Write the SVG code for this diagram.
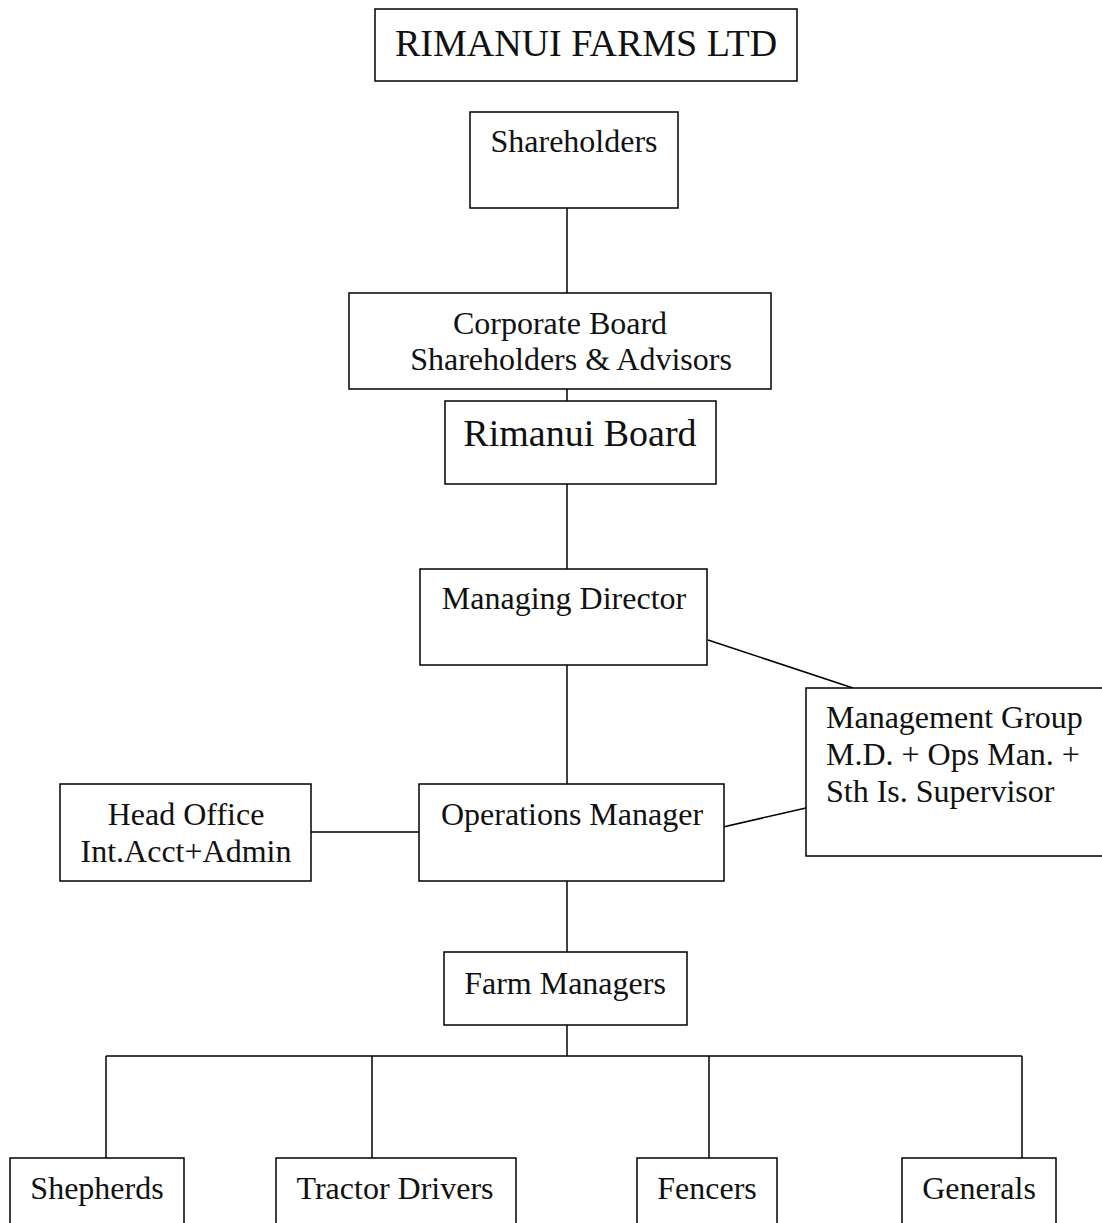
<svg xmlns="http://www.w3.org/2000/svg" width="1102" height="1223" viewBox="0 0 1102 1223">
<style>
.b{fill:#fff;stroke:#000;stroke-width:1.5}
.t{font-family:"Liberation Serif","Times New Roman",serif;font-size:32px;fill:#111}
.L{font-size:38px}
.m{text-anchor:middle}
.c line{stroke:#000;stroke-width:1.5}
</style>
<rect width="1102" height="1223" fill="#fff"/>
<g class="c" id="connectors">
<line x1="567" y1="208" x2="567" y2="293"/>
<line x1="567" y1="389" x2="567" y2="401"/>
<line x1="567" y1="484" x2="567" y2="569"/>
<line x1="567" y1="665" x2="567" y2="784"/>
<line x1="708" y1="640" x2="853" y2="688"/>
<line x1="710" y1="830" x2="806" y2="808"/>
<line x1="311" y1="832" x2="419" y2="832"/>
<line x1="567" y1="881" x2="567" y2="952"/>
<line x1="567" y1="1025" x2="567" y2="1056"/>
<line x1="106" y1="1056" x2="1022" y2="1056"/>
<line x1="106" y1="1056" x2="106" y2="1158"/>
<line x1="372" y1="1056" x2="372" y2="1158"/>
<line x1="709" y1="1056" x2="709" y2="1158"/>
<line x1="1022" y1="1056" x2="1022" y2="1158"/>
</g>
<g id="title"><rect class="b" x="375" y="9" width="422" height="72"/><text class="t m L" x="586" y="56">RIMANUI FARMS LTD</text></g>
<g id="shareholders"><rect class="b" x="470" y="112" width="208" height="96"/><text class="t m" x="574" y="152">Shareholders</text></g>
<g id="corporate"><rect class="b" x="349" y="293" width="422" height="96"/><text class="t m" x="560" y="334">Corporate Board</text><text class="t m" x="571" y="370">Shareholders &amp; Advisors</text></g>
<g id="rimanui"><rect class="b" x="445" y="401" width="271" height="83"/><text class="t m L" x="580" y="446">Rimanui Board</text></g>
<g id="md"><rect class="b" x="420" y="569" width="287" height="96"/><text class="t m" x="564" y="609">Managing Director</text></g>
<g id="mgmt"><rect class="b" x="806" y="688" width="300" height="168"/><text class="t" x="826" y="728">Management Group</text><text class="t" x="826" y="765">M.D. + Ops Man. +</text><text class="t" x="826" y="802">Sth Is. Supervisor</text></g>
<g id="ops"><rect class="b" x="419" y="784" width="305" height="97"/><text class="t m" x="572" y="825">Operations Manager</text></g>
<g id="headoffice"><rect class="b" x="60" y="784" width="251" height="97"/><text class="t m" x="186" y="825">Head Office</text><text class="t m" x="186" y="862">Int.Acct+Admin</text></g>
<g id="farm"><rect class="b" x="444" y="952" width="243" height="73"/><text class="t m" x="565" y="994">Farm Managers</text></g>
<g id="shepherds"><rect class="b" x="10" y="1158" width="174" height="80"/><text class="t m" x="97" y="1199">Shepherds</text></g>
<g id="tractor"><rect class="b" x="276" y="1158" width="240" height="80"/><text class="t m" x="395" y="1199">Tractor Drivers</text></g>
<g id="fencers"><rect class="b" x="637" y="1158" width="140" height="80"/><text class="t m" x="707" y="1199">Fencers</text></g>
<g id="generals"><rect class="b" x="902" y="1158" width="154" height="80"/><text class="t m" x="979" y="1199">Generals</text></g>
</svg>
